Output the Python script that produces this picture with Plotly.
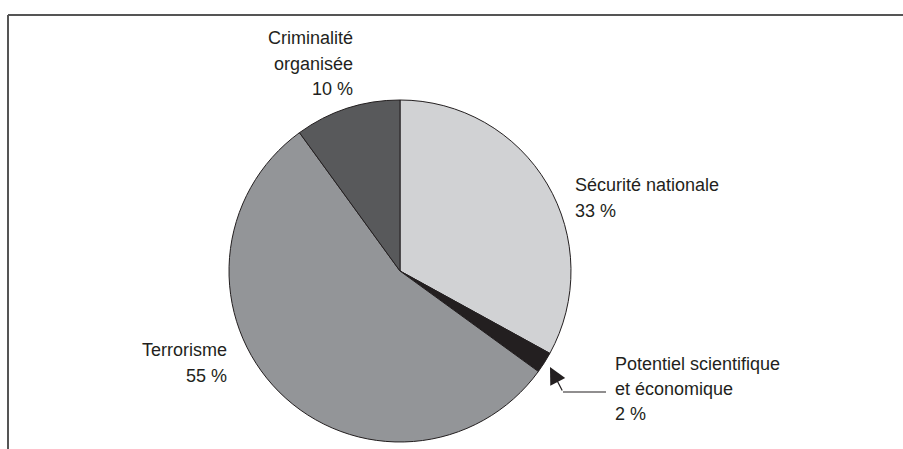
import plotly.graph_objects as go

labels = ["Sécurité nationale", "Potentiel scientifique et économique", "Terrorisme", "Criminalité organisée"]
values = [33, 2, 55, 10]
colors = ["#d1d2d4", "#231f20", "#939598", "#58595b"]
label_lines = [
    ["Sécurité nationale", "33 %"],
    ["Potentiel scientifique", "et économique", "2 %"],
    ["Terrorisme", "55 %"],
    ["Criminalité", "organisée", "10 %"],
]

W, H = 903, 449
def px(x):
    return x / W
def py(y):
    return 1 - y / H

cx, cy, r = 400, 271, 171

fig = go.Figure(go.Pie(
    labels=labels, values=values, sort=False, direction="clockwise", rotation=0,
    marker=dict(colors=colors, line=dict(color="#231f20", width=1)),
    textinfo="none", hoverinfo="label+percent", showlegend=False,
    domain=dict(x=[px(cx - r), px(cx + r)], y=[py(cy + r), py(cy - r)]),
))

font = dict(family="Liberation Sans Narrow, Arial Narrow, Liberation Sans, sans-serif", size=18, color="#231f20")
# (x, first line y, line step, anchor)
ann_pos = [
    (573, 185, 25.5, "left"),
    (613, 364, 25, "left"),
    (229, 350, 25.5, "right"),
    (355, 38, 25.5, "right"),
]
annotations = []
for lines, (x, y0, step, a) in zip(label_lines, ann_pos):
    for i, t in enumerate(lines):
        annotations.append(dict(text=t, x=px(x), y=py(y0 + i * step), xref="paper", yref="paper",
                                xanchor=a, yanchor="middle", align=a, showarrow=False, font=font))
# arrow head
annotations.append(dict(text="", x=px(550), y=py(367), xref="paper", yref="paper",
                        ax=13, ay=25, showarrow=True, arrowhead=2, arrowsize=2.8,
                        arrowwidth=1.2, arrowcolor="#231f20"))

shapes = [
    dict(type="line", xref="paper", yref="paper", x0=px(8), x1=1, y0=py(15), y1=py(15),
         line=dict(color="#555555", width=2)),
    dict(type="line", xref="paper", yref="paper", x0=px(8), x1=px(8), y0=py(15), y1=0,
         line=dict(color="#555555", width=2)),
    dict(type="line", xref="paper", yref="paper", x0=px(606), x1=px(563), y0=py(392), y1=py(392),
         line=dict(color="#231f20", width=1.2)),
]

fig.update_layout(width=W, height=H, margin=dict(l=0, r=0, t=0, b=0),
                  paper_bgcolor="white", plot_bgcolor="white",
                  annotations=annotations, shapes=shapes)
fig.write_html("out.html")
